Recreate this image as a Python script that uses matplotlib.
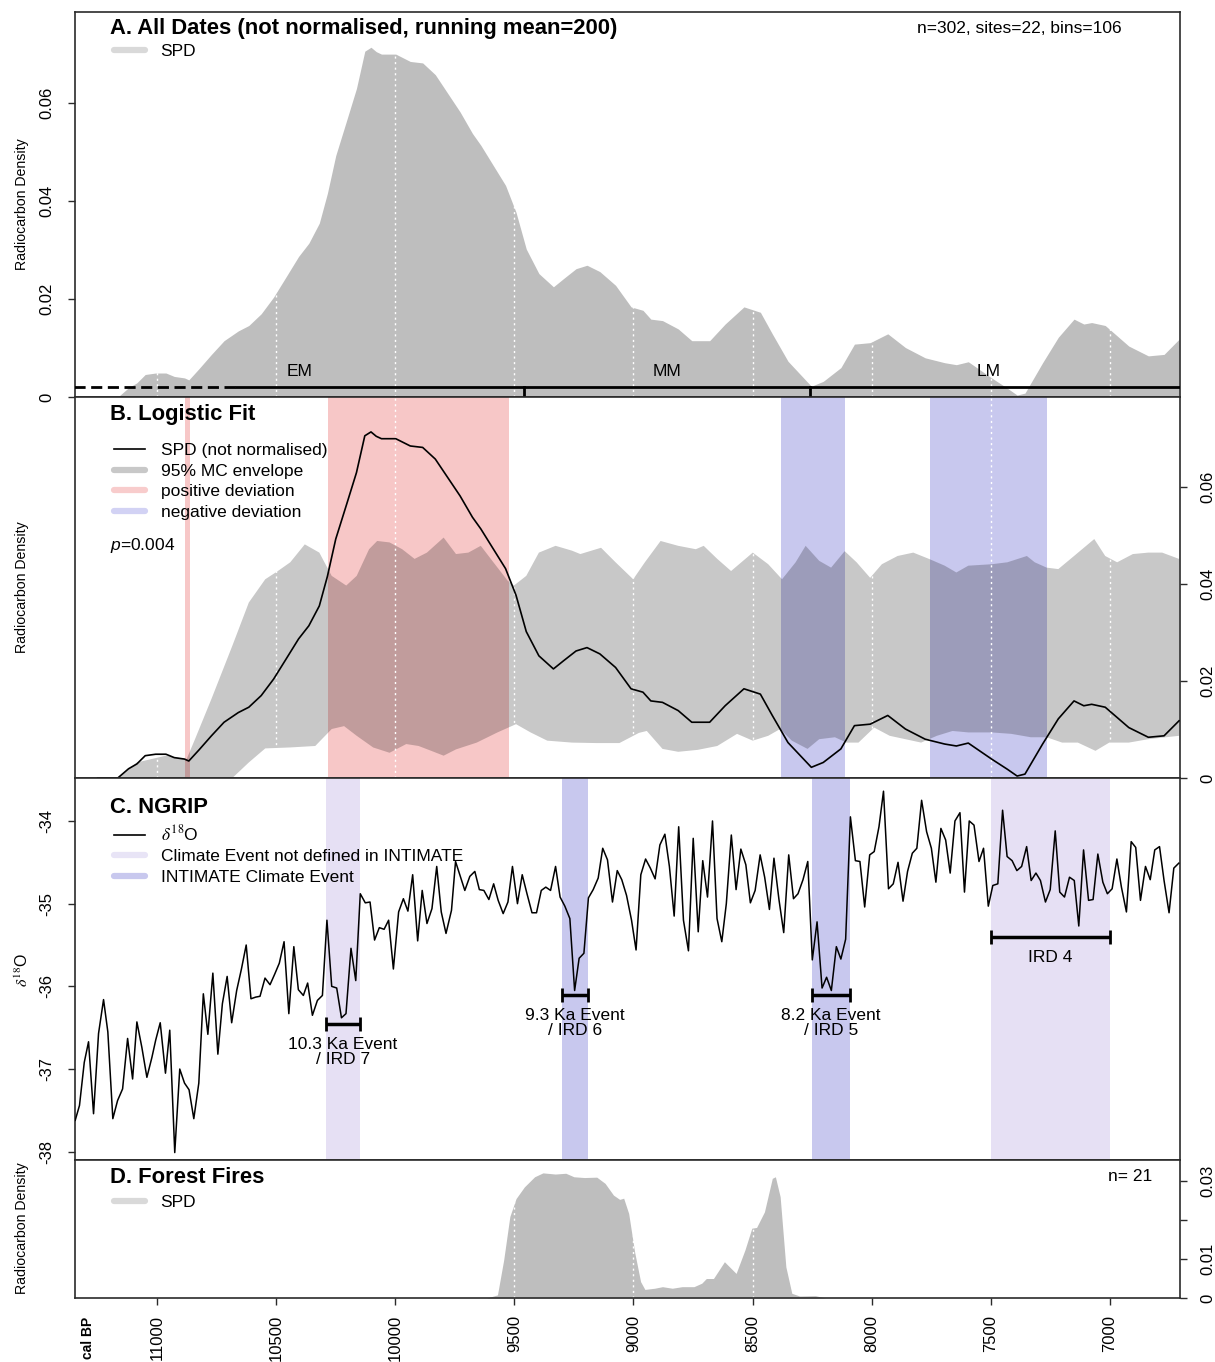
import numpy as np
import matplotlib.pyplot as plt
from matplotlib.lines import Line2D

plt.rcParams['font.family'] = ['Liberation Sans', 'DejaVu Sans']
plt.rcParams['mathtext.fontset'] = 'custom'
plt.rcParams['mathtext.rm'] = 'Liberation Sans'
plt.rcParams['mathtext.it'] = 'Liberation Sans:italic'

### Data ######################################################################
# SPD of all dates (not normalised), used in A (fill) and B (line)
spd_year = [11250, 11165, 11120, 11085, 11050, 11006, 10963, 10928, 10885, 10867,
            10824, 10772, 10719, 10659, 10615, 10563, 10511, 10459, 10406, 10363,
            10319, 10285, 10250, 10206, 10163, 10128, 10102, 10080, 10058, 9998,
            9937, 9885, 9832, 9780, 9728, 9676, 9641, 9589, 9537, 9493,
            9450, 9397, 9336, 9293, 9241, 9195, 9141, 9075, 9010, 8960,
            8927, 8878, 8812, 8755, 8680, 8615, 8536, 8467, 8417, 8351,
            8253, 8203, 8129, 8072, 8006, 7932, 7858, 7775, 7693, 7644,
            7594, 7496, 7430, 7389, 7356, 7282, 7216, 7150, 7109, 7076,
            7019, 6920, 6838, 6772, 6709]
spd_val = [0, 0, 0.0019, 0.0029, 0.0046, 0.0049, 0.0049, 0.0042, 0.0039, 0.0035,
           0.0058, 0.0087, 0.0115, 0.0135, 0.0146, 0.0170, 0.0204, 0.0245, 0.0287, 0.0314,
           0.0355, 0.0416, 0.0493, 0.0562, 0.0630, 0.0706, 0.0714, 0.0705, 0.0700, 0.0700,
           0.0685, 0.0682, 0.0658, 0.0620, 0.0582, 0.0538, 0.0514, 0.0473, 0.0432, 0.0377,
           0.0302, 0.0252, 0.0225, 0.0242, 0.0262, 0.0269, 0.0256, 0.0228, 0.0184, 0.0177,
           0.0159, 0.0156, 0.0139, 0.0115, 0.0115, 0.0149, 0.0184, 0.0173, 0.0129, 0.0073,
           0.0022, 0.0032, 0.0060, 0.0108, 0.0111, 0.0129, 0.0101, 0.0080, 0.0070, 0.0066,
           0.0072, 0.0039, 0.0018, 0.0004, 0.0008, 0.0070, 0.0122, 0.0159, 0.0149, 0.0152,
           0.0146, 0.0104, 0.0084, 0.0087, 0.0118]

# 95% MC envelope (logistic fit)
env_hi_year = [11163, 11085, 10963, 10876, 10841, 10772, 10684, 10615, 10546, 10493,
               10441, 10380, 10319, 10267, 10206, 10162, 10110, 10076, 10024, 9971,
               9919, 9867, 9797, 9745, 9693, 9641, 9588, 9528, 9502, 9450,
               9397, 9327, 9258, 9223, 9136, 9075, 9001, 8952, 8886, 8812,
               8738, 8705, 8648, 8590, 8499, 8434, 8376, 8319, 8277, 8220,
               8170, 8113, 8063, 8006, 7957, 7891, 7825, 7759, 7693, 7644,
               7594, 7496, 7430, 7348, 7315, 7265, 7216, 7150, 7065, 7019,
               6969, 6903, 6838, 6780, 6709]
env_hi = [0, 0.0032, 0.0046, 0.0039, 0.0080, 0.0163, 0.0273, 0.0362, 0.0410, 0.0427,
          0.0445, 0.0482, 0.0465, 0.0417, 0.0397, 0.0417, 0.0472, 0.0489, 0.0486, 0.0472,
          0.0452, 0.0465, 0.0496, 0.0462, 0.0465, 0.0479, 0.0445, 0.0407, 0.0397, 0.0417,
          0.0465, 0.0479, 0.0469, 0.0462, 0.0475, 0.0445, 0.0410, 0.0445, 0.0489, 0.0479,
          0.0472, 0.0479, 0.0452, 0.0427, 0.0465, 0.0441, 0.0410, 0.0445, 0.0479, 0.0448,
          0.0434, 0.0468, 0.0445, 0.0413, 0.0441, 0.0458, 0.0465, 0.0452, 0.0438, 0.0424,
          0.0438, 0.0441, 0.0445, 0.0458, 0.0445, 0.0434, 0.0431, 0.0458, 0.0493, 0.0458,
          0.0445, 0.0462, 0.0465, 0.0465, 0.0452]
env_lo_year = [11163, 10684, 10615, 10546, 10441, 10336, 10267, 10215, 10162, 10093,
               10024, 9954, 9902, 9849, 9797, 9745, 9658, 9571, 9493, 9432,
               9362, 9258, 9154, 9059, 8977, 8944, 8878, 8812, 8730, 8648,
               8565, 8499, 8434, 8384, 8335, 8269, 8220, 8154, 8105, 8055,
               7989, 7924, 7858, 7792, 7726, 7660, 7594, 7496, 7413, 7331,
               7265, 7200, 7134, 7060, 7002, 6920, 6838, 6709]
env_lo = [0, 0, 0.0032, 0.0061, 0.0063, 0.0066, 0.0101, 0.0107, 0.0087, 0.0063,
          0.0052, 0.0070, 0.0066, 0.0056, 0.0046, 0.0059, 0.0073, 0.0094, 0.0111, 0.0094,
          0.0077, 0.0073, 0.0072, 0.0072, 0.0093, 0.0097, 0.0060, 0.0054, 0.0058, 0.0066,
          0.0091, 0.0077, 0.0087, 0.0101, 0.0077, 0.0060, 0.0080, 0.0084, 0.0073, 0.0073,
          0.0104, 0.0087, 0.0080, 0.0073, 0.0087, 0.0097, 0.0094, 0.0094, 0.0091, 0.0084,
          0.0084, 0.0073, 0.0073, 0.0056, 0.0073, 0.0073, 0.0080, 0.0087]

# deviation windows (start, end in cal BP)
pos_dev = [(10883, 10862), (10281, 9523)]
neg_dev = [(8379, 8112), (7756, 7263)]

# periods in panel A
period_names = ['EM', 'MM', 'LM']
period_bounds = [11350, 9458, 8257, 6760]
period_dash_end = 10667

# NGRIP d18O
ngrip_year = [11344, 11326, 11306, 11288, 11267, 11246, 11225, 11207, 11186, 11166,
              11145, 11124, 11103, 11085, 11064, 11043, 11022, 11006, 10987, 10965,
              10947, 10926, 10905, 10885, 10866, 10846, 10825, 10806, 10787, 10766,
              10745, 10726, 10706, 10687, 10666, 10646, 10626, 10606, 10586, 10568,
              10547, 10526, 10506, 10487, 10467, 10447, 10426, 10407, 10386, 10368,
              10348, 10327, 10306, 10287, 10267, 10246, 10226, 10207, 10186, 10166,
              10147, 10126, 10106, 10087, 10067, 10047, 10028, 10008, 9986, 9966,
              9947, 9927, 9906, 9887, 9867, 9846, 9826, 9807, 9787, 9764,
              9747, 9729, 9708, 9687, 9666, 9647, 9628, 9607, 9587, 9568,
              9547, 9527, 9508, 9487, 9467, 9447, 9426, 9407, 9387, 9368,
              9348, 9327, 9308, 9288, 9267, 9247, 9228, 9208, 9189, 9169,
              9148, 9129, 9109, 9088, 9068, 9049, 9029, 9008, 8989, 8969,
              8949, 8929, 8909, 8889, 8868, 8849, 8829, 8810, 8790, 8769,
              8749, 8728, 8709, 8689, 8668, 8649, 8629, 8610, 8589, 8569,
              8549, 8528, 8509, 8489, 8468, 8449, 8429, 8410, 8389, 8369,
              8348, 8328, 8309, 8288, 8268, 8249, 8229, 8208, 8189, 8169,
              8148, 8129, 8109, 8089, 8068, 8049, 8029, 8008, 7989, 7969,
              7950, 7929, 7909, 7889, 7868, 7849, 7829, 7810, 7790, 7769,
              7749, 7730, 7709, 7689, 7670, 7650, 7629, 7610, 7590, 7570,
              7549, 7530, 7510, 7491, 7470, 7450, 7431, 7410, 7390, 7370,
              7349, 7330, 7310, 7291, 7270, 7250, 7229, 7210, 7190, 7169,
              7149, 7130, 7110, 7089, 7070, 7050, 7029, 7010, 6990, 6970,
              6951, 6930, 6910, 6891, 6871, 6850, 6830, 6811, 6791, 6772,
              6751, 6731, 6710]
ngrip_d18o = [-37.62, -37.44, -36.92, -36.67, -37.54, -36.57, -36.16, -36.55, -37.60, -37.38,
              -37.24, -36.63, -37.12, -36.43, -36.74, -37.10, -36.86, -36.65, -36.44, -37.05,
              -36.53, -38.01, -37.00, -37.17, -37.25, -37.60, -37.17, -36.09, -36.58, -35.84,
              -36.82, -36.21, -35.88, -36.44, -36.05, -35.79, -35.50, -36.15, -36.13, -36.12,
              -35.90, -35.98, -35.85, -35.72, -35.46, -36.33, -35.52, -36.04, -36.11, -35.96,
              -36.35, -36.17, -36.11, -35.20, -36.00, -36.02, -36.38, -36.33, -35.54, -35.93,
              -34.88, -34.99, -34.98, -35.44, -35.29, -35.31, -35.20, -35.79, -35.10, -34.94,
              -35.09, -34.65, -35.45, -34.84, -35.24, -35.06, -34.55, -35.10, -35.36, -35.08,
              -34.49, -34.65, -34.84, -34.67, -34.61, -34.83, -34.84, -34.95, -34.76, -34.96,
              -35.12, -34.98, -34.55, -35.00, -34.65, -34.88, -35.11, -35.11, -34.84, -34.80,
              -34.84, -34.55, -34.92, -35.03, -35.18, -36.05, -35.66, -35.60, -34.93, -34.83,
              -34.69, -34.33, -34.47, -34.98, -34.60, -34.71, -34.90, -35.20, -35.56, -34.65,
              -34.46, -34.57, -34.70, -34.29, -34.16, -34.55, -35.15, -34.07, -35.20, -35.57,
              -34.21, -35.34, -34.48, -34.92, -34.00, -35.18, -35.46, -35.00, -34.17, -34.83,
              -34.34, -34.53, -34.99, -34.84, -34.41, -34.68, -35.07, -34.45, -34.95, -35.35,
              -34.41, -34.94, -34.88, -34.71, -34.49, -35.68, -35.22, -36.02, -35.89, -36.05,
              -35.52, -35.67, -35.43, -33.95, -34.48, -34.49, -35.04, -34.41, -34.37, -34.07,
              -33.64, -34.82, -34.76, -34.50, -34.97, -34.61, -34.39, -34.33, -33.75, -34.13,
              -34.33, -34.74, -34.09, -34.23, -34.63, -34.00, -33.90, -34.86, -34.00, -34.05,
              -34.49, -34.33, -35.03, -34.78, -34.76, -33.87, -34.43, -34.48, -34.60, -34.55,
              -34.31, -34.72, -34.63, -34.72, -34.98, -34.83, -34.12, -34.86, -34.92, -34.68,
              -34.72, -35.27, -34.35, -34.96, -34.95, -34.40, -34.74, -34.88, -34.82, -34.46,
              -34.80, -35.10, -34.25, -34.32, -34.96, -34.55, -34.71, -34.35, -34.31, -34.72,
              -35.11, -34.57, -34.51]

# climate events: label, start, end, bar level, INTIMATE-defined?
event_labels = ['10.3 Ka Event\n/ IRD 7', '9.3 Ka Event\n/ IRD 6', '8.2 Ka Event\n/ IRD 5', 'IRD 4']
event_start = [10290, 9300, 8250, 7500]
event_end = [10150, 9190, 8092, 7000]
event_bar = [-36.45, -36.10, -36.10, -35.40]
event_intimate = [False, True, True, False]

# forest fire SPD
fire_year = [9615, 9571, 9545, 9519, 9493, 9458, 9415, 9380, 9328, 9284,
             9250, 9206, 9154, 9119, 9084, 9058, 9041, 9020, 8995, 8970,
             8952, 8911, 8878, 8837, 8796, 8746, 8713, 8694, 8664, 8618,
             8569, 8532, 8503, 8483, 8450, 8417, 8404, 8384, 8360, 8335,
             8302, 8236, 8195]
fire_val = [0, 0.0008, 0.0097, 0.0209, 0.0255, 0.0285, 0.0311, 0.0321, 0.0318, 0.0320,
            0.0311, 0.0309, 0.0310, 0.0294, 0.0264, 0.0253, 0.0256, 0.0217, 0.0118, 0.0042,
            0.0022, 0.0025, 0.0029, 0.0025, 0.0029, 0.0029, 0.0038, 0.0050, 0.0050, 0.0093,
            0.0063, 0.0123, 0.0179, 0.0181, 0.0221, 0.0307, 0.0311, 0.0260, 0.0080, 0.0012,
            0.0005, 0.0006, 0]

xticks = [11000, 10500, 10000, 9500, 9000, 8500, 8000, 7500, 7000]

### Style #####################################################################
FS = 12.5
TFS = 15.8
col_spd = '#BEBEBE'
col_pos = '#F7C7C7'
col_neg = '#C8C8EE'
col_lav = '#E6E0F4'
spine_col = '#2b2b2b'

fig = plt.figure(figsize=(12.15, 13.62), dpi=100)
L, W = 0.0617, 0.9095
axA = fig.add_axes([L, 0.7085, W, 0.2827])
axB = fig.add_axes([L, 0.4288, W, 0.2797], sharex=axA)
axC = fig.add_axes([L, 0.1483, W, 0.2805], sharex=axA)
axD = fig.add_axes([L, 0.0470, W, 0.1013], sharex=axA)

for ax in (axA, axB, axC, axD):
    for s in ax.spines.values():
        s.set_color(spine_col)
        s.set_linewidth(1.2)
    ax.tick_params(direction='out', length=5, width=1, color=spine_col, labelsize=12)
    ax.tick_params(axis='x', bottom=False, labelbottom=False)

axA.set_xlim(11345, 6705)

leg_kw = dict(loc='upper left', frameon=False, fontsize=FS, handlelength=1.8,
              handletextpad=0.9, borderpad=0, borderaxespad=0, labelspacing=0.31)


def vgrid(ax):
    for t in xticks:
        ax.axvline(t, color='white', ls=(0, (1.5, 2.5)), lw=1, zorder=2)


def rot_labels(labels):
    for lab in labels:
        lab.set_rotation(90)
        lab.set_va('center')


def patch(c):
    return Line2D([], [], color=c, lw=4.5, solid_capstyle='round')


### A. All dates ##############################################################
axA.fill_between(spd_year, spd_val, color=col_spd, lw=0, zorder=1)
vgrid(axA)
axA.set_ylim(0, 0.0786)
axA.set_yticks([0, 0.02, 0.04, 0.06], ['0', '0.02', '0.04', '0.06'])
rot_labels(axA.get_yticklabels())
axA.tick_params(axis='y', pad=10)

bar_y = 0.002
axA.plot([period_bounds[0], period_dash_end], [bar_y, bar_y], color='black', lw=2, ls=(0, (4, 2)), zorder=4)
axA.plot([period_dash_end, period_bounds[-1] - 100], [bar_y, bar_y], color='black', lw=2, zorder=4)
for b in period_bounds[1:-1]:
    axA.plot([b, b], [0, bar_y], color='black', lw=2, zorder=4)
for i, name in enumerate(period_names):
    mid = (period_bounds[i] + period_bounds[i + 1]) / 2
    axA.text(mid, 0.0053, name, ha='center', va='center', fontsize=FS)

axA.text(0.0317, 0.956, 'A. All Dates (not normalised, running mean=200)', transform=axA.transAxes,
         fontsize=TFS, fontweight='bold', va='center', ha='left')
axA.text(0.9475, 0.958, 'n=302, sites=22, bins=106', transform=axA.transAxes,
         fontsize=FS, va='center', ha='right')
axA.legend([patch('#D9D9D9')], ['SPD'], bbox_to_anchor=(0.035, 0.917), **leg_kw)

### B. Logistic fit ###########################################################
for a, b in pos_dev:
    axB.axvspan(a, b, color=col_pos, lw=0, zorder=0)
for a, b in neg_dev:
    axB.axvspan(a, b, color=col_neg, lw=0, zorder=0)
axB.fill(np.concatenate([env_hi_year, env_lo_year[::-1]]),
         np.concatenate([env_hi, env_lo[::-1]]), color='black', alpha=0.215, lw=0, zorder=1)
vgrid(axB)
axB.plot(spd_year, spd_val, color='black', lw=1.2, zorder=3)
axB.set_ylim(0, 0.0786)
axB.yaxis.tick_right()
axB.set_yticks([0, 0.02, 0.04, 0.06], ['0', '0.02', '0.04', '0.06'])
rot_labels(axB.get_yticklabels())
axB.tick_params(axis='y', pad=10)

axB.text(0.0317, 0.953, 'B. Logistic Fit', transform=axB.transAxes,
         fontsize=TFS, fontweight='bold', va='center', ha='left')
hB = [Line2D([], [], color='black', lw=1.2), patch('#C8C8C8'), patch('#F8CCCC'), patch('#D2D2F4')]
axB.legend(hB, ['SPD (not normalised)', '95% MC envelope', 'positive deviation', 'negative deviation'],
           bbox_to_anchor=(0.035, 0.879), **leg_kw)
axB.text(0.0317, 0.61, '$p$=0.004', transform=axB.transAxes, fontsize=FS, va='center', ha='left')

### C. NGRIP ##################################################################
for s, e, intim in zip(event_start, event_end, event_intimate):
    axC.axvspan(s, e, color=col_neg if intim else col_lav, lw=0, zorder=0)
axC.plot(ngrip_year, ngrip_d18o, color='black', lw=1.1, zorder=3)
for lab, s, e, y in zip(event_labels, event_start, event_end, event_bar):
    axC.errorbar((s + e) / 2, y, xerr=abs(s - e) / 2, fmt='none', ecolor='black',
                 elinewidth=2.5, capsize=5, capthick=2, zorder=4)
    axC.text((s + e) / 2, y - 0.16, lab, ha='center', va='top', fontsize=FS, linespacing=1.0)
axC.set_ylim(-38.1, -33.48)
axC.set_yticks([-34, -35, -36, -37, -38], ['-34', '-35', '-36', '-37', '-38'])
rot_labels(axC.get_yticklabels())
axC.tick_params(axis='y', pad=10)

axC.text(0.0317, 0.922, 'C. NGRIP', transform=axC.transAxes,
         fontsize=TFS, fontweight='bold', va='center', ha='left')
hC = [Line2D([], [], color='black', lw=1.2), patch('#E8E4F6'), patch(col_neg)]
legC = axC.legend(hC, [r'$\delta^{18}$O', 'Climate Event not defined in INTIMATE', 'INTIMATE Climate Event'],
                  bbox_to_anchor=(0.035, 0.88), **leg_kw)
legC.get_texts()[0].set_math_fontfamily('stix')

### D. Forest fires ###########################################################
axD.fill_between(fire_year, fire_val, color=col_spd, lw=0, zorder=1)
vgrid(axD)
axD.set_ylim(0, 0.0354)
axD.yaxis.tick_right()
axD.set_yticks([0, 0.01, 0.02, 0.03], ['0', '0.01', '', '0.03'])
rot_labels(axD.get_yticklabels())
axD.tick_params(axis='y', pad=10)
axD.tick_params(axis='x', bottom=True, labelbottom=True, pad=7)
axD.set_xticks(xticks, [str(t) for t in xticks])
for lab in axD.get_xticklabels():
    lab.set_rotation(90)

axD.text(0.0317, 0.873, 'D. Forest Fires', transform=axD.transAxes,
         fontsize=TFS, fontweight='bold', va='center', ha='left')
axD.text(0.9747, 0.877, 'n= 21', transform=axD.transAxes, fontsize=FS, va='center', ha='right')
axD.legend([patch('#D9D9D9')], ['SPD'], bbox_to_anchor=(0.035, 0.748), **leg_kw)

### y labels and corner label #################################################
H = 1362.0
fig.text(22 / 1215, 1 - 204 / H, 'Radiocarbon Density', rotation=90, ha='center', va='center', fontsize=10.2)
fig.text(22 / 1215, 1 - 587 / H, 'Radiocarbon Density', rotation=90, ha='center', va='center', fontsize=10.2)
fig.text(22 / 1215, 1 - 970 / H, r'$\delta^{18}$O', rotation=90, ha='center', va='center', fontsize=11.5,
         math_fontfamily='stix')
fig.text(22 / 1215, 1 - 1228 / H, 'Radiocarbon Density', rotation=90, ha='center', va='center', fontsize=10.2)
fig.text(88 / 1215, 1 - 1317 / H, 'cal BP', rotation=90, ha='center', va='top', fontsize=10, fontweight='bold')

fig.savefig('out.png', dpi=100)
